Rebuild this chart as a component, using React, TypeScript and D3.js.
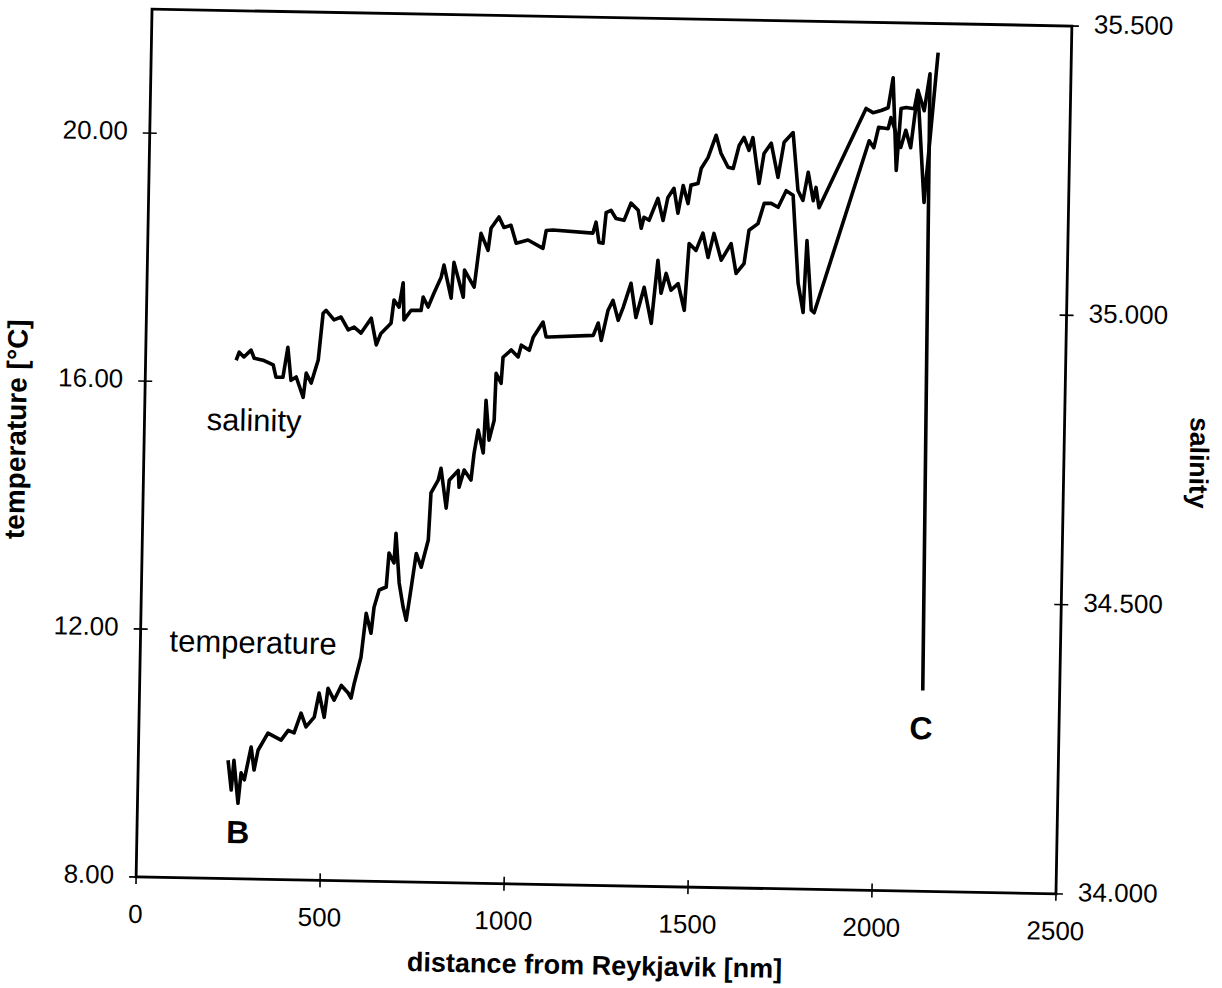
import React from "react";
import * as d3 from "d3";

// Axis ticks
const distanceTicks = [0, 500, 1000, 1500, 2000, 2500];
const temperatureTicks = [8, 12, 16, 20];
const salinityTicks = [34.0, 34.5, 35.0, 35.5];

// Salinity along the B–C section (distance in nm, practical salinity)
const salinityDistance = [
  246, 254, 267, 286, 295, 319, 347, 355, 374, 386, 396, 410, 430, 437, 451, 469,
  480, 488, 510, 529, 549, 565, 584, 611, 626, 638, 665, 672, 686, 696, 700, 719,
  746, 751, 765, 780, 799, 806, 827, 833, 860, 862, 889, 905, 925, 932, 953, 967,
  986, 1001, 1033, 1074, 1082, 1100, 1209, 1217, 1226, 1237, 1244, 1257, 1271, 1293,
  1311, 1331, 1340, 1347, 1361, 1384, 1399, 1411, 1427, 1439, 1452, 1466, 1473, 1492,
  1500, 1518, 1539, 1553, 1573, 1587, 1602, 1615, 1629, 1639, 1658, 1670, 1689, 1709,
  1724, 1748, 1764, 1778, 1791, 1806, 1813, 1822, 1945, 1964, 1986, 2005, 2017, 2030,
  2040, 2054, 2076, 2085, 2103, 2117, 2128,
];
const salinityValues = [
  34.896, 34.91, 34.902, 34.914, 34.9, 34.897, 34.889, 34.868, 34.868, 34.92, 34.863, 34.869, 34.834, 34.876, 34.859, 34.899,
  34.98, 34.985, 34.969, 34.974, 34.952, 34.957, 34.947, 34.973, 34.927, 34.947, 34.965, 35.005, 34.993, 35.035, 34.971, 34.988,
  34.988, 35.011, 34.994, 35.018, 35.046, 35.067, 35.01, 35.072, 35.012, 35.059, 35.03, 35.123, 35.094, 35.132, 35.152, 35.134,
  35.138, 35.107, 35.113, 35.099, 35.13, 35.131, 35.127, 35.146, 35.111, 35.11, 35.163, 35.167, 35.153, 35.15,
  35.18, 35.168, 35.137, 35.156, 35.151, 35.189, 35.151, 35.191, 35.207, 35.164, 35.212, 35.181, 35.213, 35.216,
  35.242, 35.261, 35.3, 35.269, 35.245, 35.243, 35.283, 35.297, 35.275, 35.297, 35.218, 35.27, 35.288, 35.229,
  35.29, 35.307, 35.207, 35.19, 35.239, 35.19, 35.213, 35.178, 35.351, 35.344, 35.348, 35.353, 35.405, 35.245,
  35.352, 35.354, 35.352, 35.384, 35.349, 35.413, 34.347,
];

// Temperature along the same section (distance in nm, °C)
const temperatureDistance = [
  244, 254, 260, 273, 280, 289, 306, 315, 325, 351, 387, 406, 422, 440, 454, 476,
  488, 503, 512, 529, 548, 567, 575, 583, 600, 612, 626, 633, 646, 665, 671, 685,
  689, 700, 712, 721, 733, 745, 759, 777, 782, 801, 808, 824, 831, 855, 858, 871,
  890, 897, 907, 922, 927, 937, 950, 953, 967, 971, 993, 1012, 1020, 1042, 1052, 1078,
  1087, 1095, 1215, 1228, 1237, 1254, 1267, 1282, 1295, 1315, 1330, 1351, 1372, 1387,
  1397, 1410, 1424, 1443, 1461, 1471, 1490, 1508, 1523, 1538, 1559, 1585, 1600, 1621,
  1633, 1657, 1673, 1692, 1711, 1732, 1751, 1769, 1784, 1791, 1806, 1814, 1955, 1968,
  1980, 2006, 2013, 2041, 2054, 2068, 2085, 2107, 2138,
];
const temperatureValues = [
  9.91, 9.43, 9.91, 9.22, 9.71, 9.6, 10.13, 9.76, 10.08, 10.36, 10.25, 10.41, 10.37, 10.69, 10.47, 10.63,
  11.02, 10.63, 11.1, 10.91, 11.15, 11.03, 10.95, 11.19, 11.61, 12.32, 12.0, 12.42, 12.7, 12.75, 13.3, 13.14,
  13.62, 12.82, 12.43, 12.22, 12.75, 13.3, 13.08, 13.52, 14.28, 14.49, 14.68, 14.04, 14.49, 14.65, 14.38, 14.66,
  14.5, 14.93, 15.31, 14.94, 15.79, 15.15, 15.47, 16.23, 16.07, 16.49, 16.61, 16.5, 16.69, 16.61, 16.82, 17.07,
  16.83, 16.83, 16.87, 17.07, 16.79, 17.28, 17.44, 17.12, 17.33, 17.72, 17.17, 17.66, 17.08, 18.1,
  17.57, 17.89, 17.62, 17.73, 17.3, 18.38, 18.27, 18.55, 18.16, 18.55, 18.12, 18.39, 17.91, 18.07,
  18.61, 18.72, 19.05, 19.05, 18.99, 19.26, 19.19, 17.77, 17.3, 18.46, 17.34, 17.3, 20.09, 19.98,
  20.31, 20.29, 20.47, 19.99, 20.27, 19.99, 20.91, 19.11, 21.53,
];

const FONT = "'Liberation Sans', Arial, Helvetica, sans-serif";
const W = 1222;
const H = 988;
const frame = { left: 144, right: 1064, top: 17.5, bottom: 885.5 };
const tilt = 1.05;
const pivot = { x: 604, y: 451.5 };

export default function App() {
  const x = d3.scaleLinear().domain([0, 2500]).range([frame.left, frame.right]);
  const yT = d3.scaleLinear().domain([8, 22]).range([frame.bottom, frame.top]);
  const yS = d3.scaleLinear().domain([34, 35.5]).range([frame.bottom, frame.top]);

  const salinityPath = d3
    .line<number>()
    .x((_, i) => x(salinityDistance[i]))
    .y((d) => yS(d))(salinityValues);
  const temperaturePath = d3
    .line<number>()
    .x((_, i) => x(temperatureDistance[i]))
    .y((d) => yT(d))(temperatureValues);

  const fT = d3.format(".2f");
  const fS = d3.format(".3f");
  const tick = 7;

  return (
    <div style={{ position: "absolute", left: 0, top: 0 }}>
      <svg width={W} height={H} style={{ display: "block", background: "#fff" }} fontFamily={FONT}>
        <rect width={W} height={H} fill="#fff" />
        <g transform={`rotate(${tilt} ${pivot.x} ${pivot.y})`}>
          {/* plot frame */}
          <rect
            x={frame.left}
            y={frame.top}
            width={frame.right - frame.left}
            height={frame.bottom - frame.top}
            fill="none"
            stroke="#000"
            strokeWidth={2.8}
          />
          {/* bottom axis */}
          {distanceTicks.map((t) => (
            <g key={"x" + t}>
              <line x1={x(t)} x2={x(t)} y1={frame.bottom - tick} y2={frame.bottom + tick} stroke="#000" strokeWidth={1.6} />
              <text x={x(t)} y={frame.bottom + 39} fontSize={26} textAnchor="middle" dominantBaseline="middle">
                {t}
              </text>
            </g>
          ))}
          {/* left axis: temperature */}
          {temperatureTicks.map((t) => (
            <g key={"t" + t}>
              <line x1={frame.left - tick} x2={frame.left + tick} y1={yT(t)} y2={yT(t)} stroke="#000" strokeWidth={1.6} />
              <text x={frame.left - 22} y={yT(t)} fontSize={26} textAnchor="end" dominantBaseline="middle">
                {fT(t)}
              </text>
            </g>
          ))}
          {/* right axis: salinity */}
          {salinityTicks.map((t) => (
            <g key={"s" + t}>
              <line x1={frame.right - tick} x2={frame.right + tick} y1={yS(t)} y2={yS(t)} stroke="#000" strokeWidth={1.6} />
              <text x={frame.right + 22} y={yS(t)} fontSize={26} textAnchor="start" dominantBaseline="middle">
                {fS(t)}
              </text>
            </g>
          ))}

          {/* data */}
          <path d={salinityPath ?? ""} fill="none" stroke="#000" strokeWidth={3.6} strokeLinejoin="round" />
          <path d={temperaturePath ?? ""} fill="none" stroke="#000" strokeWidth={3.6} strokeLinejoin="round" />

          {/* curve labels */}
          <text x={x(298)} y={yT(15.36)} fontSize={31} textAnchor="middle" dominantBaseline="middle">
            salinity
          </text>
          <text x={x(306)} y={yT(11.78)} fontSize={31} textAnchor="middle" dominantBaseline="middle">
            temperature
          </text>
          <text x={x(274)} y={yT(8.71)} fontSize={32} fontWeight="bold" textAnchor="middle" dominantBaseline="middle">
            B
          </text>
          <text x={x(2125)} y={yT(10.59)} fontSize={32} fontWeight="bold" textAnchor="middle" dominantBaseline="middle">
            C
          </text>

          {/* axis titles */}
          <text
            x={(frame.left + frame.right) / 2}
            y={frame.bottom + 82}
            fontSize={27}
            fontWeight="bold"
            textAnchor="middle"
            dominantBaseline="middle"
          >
            distance from Reykjavik [nm]
          </text>
          <text
            transform={`translate(18, 440) rotate(-90)`}
            fontSize={28}
            fontWeight="bold"
            textAnchor="middle"
            dominantBaseline="middle"
          >
            temperature [°C]
          </text>
          <text
            transform={`translate(1197, 452) rotate(90)`}
            fontSize={26.5}
            fontWeight="bold"
            textAnchor="middle"
            dominantBaseline="middle"
          >
            salinity
          </text>
        </g>
      </svg>
    </div>
  );
}
